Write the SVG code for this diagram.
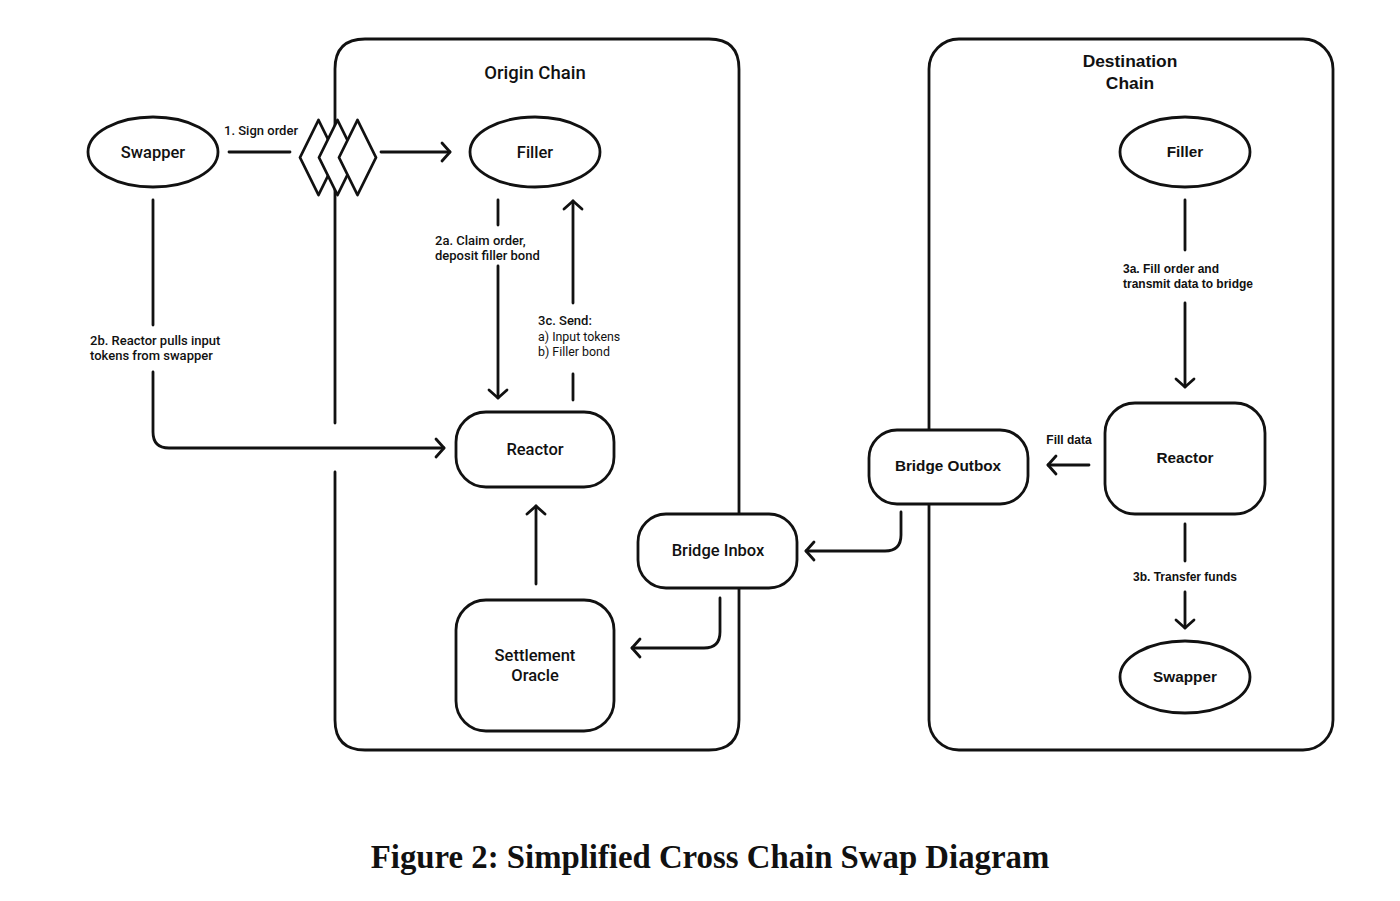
<svg xmlns="http://www.w3.org/2000/svg" width="1400" height="901" viewBox="0 0 1400 901">
<style>
.s{fill:none;stroke:#111;stroke-width:2.8;stroke-linecap:round;stroke-linejoin:round}
.n{fill:#fff;stroke:#111;stroke-width:2.8}
.dm{fill:#fff;stroke:#111;stroke-width:2.8;stroke-linejoin:round}
.t{font-family:Roboto,"Liberation Sans",sans-serif;font-weight:500;font-size:16.5px;fill:#111;text-anchor:middle}
.d{font-family:"Liberation Sans",Arial,sans-serif;font-weight:700;font-size:15.3px;fill:#111;text-anchor:middle}
.l{font-family:Roboto,"Liberation Sans",sans-serif;font-weight:500;font-size:13px;fill:#111}
.lr{font-family:Roboto,"Liberation Sans",sans-serif;font-weight:400;font-size:12.4px;fill:#111}
.ld{font-family:"Liberation Sans",Arial,sans-serif;font-weight:700;font-size:12px;fill:#111}
.h{font-family:Roboto,"Liberation Sans",sans-serif;font-weight:500;font-size:18.5px;fill:#111;text-anchor:middle}
.hd{font-family:"Liberation Sans",Arial,sans-serif;font-weight:700;font-size:17.4px;fill:#111;text-anchor:middle}
.c{font-family:"Liberation Serif","Times New Roman",serif;font-weight:700;font-size:32.8px;fill:#111;text-anchor:middle}
</style>
<defs>
<marker id="a" markerUnits="userSpaceOnUse" markerWidth="24" markerHeight="24" viewBox="-12 -12 24 24" refX="0" refY="0" orient="auto" overflow="visible">
<path d="M-8,-9 L0,0 L-8,9" fill="none" stroke="#111" stroke-width="2.8" stroke-linecap="round" stroke-linejoin="round"/>
</marker>
</defs>
<rect width="1400" height="901" fill="#fff"/>
<g id="origin-chain">
<path class="s" d="M335,423 L335,69 Q335,39 365,39 L709,39 Q739,39 739,69 L739,720 Q739,750 709,750 L365,750 Q335,750 335,720 L335,472"/>
<text class="h" x="535" y="79">Origin Chain</text>
</g>
<g id="destination-chain">
<rect class="s" x="929" y="39" width="404" height="711" rx="30"/>
<text class="hd" x="1130" y="67">Destination</text>
<text class="hd" x="1130" y="89">Chain</text>
</g>
<g id="connectors">
<line class="s" x1="229" y1="152" x2="290" y2="152"/>
<path class="dm" d="M318.5,120 L337,157.5 L318.5,195 L300,157.5 Z"/>
<path class="dm" d="M337.5,120 L356,157.5 L337.5,195 L319,157.5 Z"/>
<path class="dm" d="M357.5,120 L376,157.5 L357.5,195 L339,157.5 Z"/>
<line class="s" x1="381" y1="152" x2="450" y2="152" marker-end="url(#a)"/>
<line class="s" x1="498" y1="200" x2="498" y2="225"/>
<line class="s" x1="498" y1="266" x2="498" y2="398" marker-end="url(#a)"/>
<line class="s" x1="573" y1="400" x2="573" y2="374"/>
<line class="s" x1="573" y1="303" x2="573" y2="201" marker-end="url(#a)"/>
<line class="s" x1="153" y1="200" x2="153" y2="325"/>
<path class="s" d="M153,372 L153,432 Q153,448 169,448 L444,448" marker-end="url(#a)"/>
<line class="s" x1="536" y1="584" x2="536" y2="506" marker-end="url(#a)"/>
<path class="s" d="M720,598 L720,632 Q720,648 704,648 L632,648" marker-end="url(#a)"/>
<path class="s" d="M901,512 L901,535 Q901,551 885,551 L806,551" marker-end="url(#a)"/>
<line class="s" x1="1089" y1="465" x2="1048" y2="465" marker-end="url(#a)"/>
<line class="s" x1="1185" y1="200" x2="1185" y2="250"/>
<line class="s" x1="1185" y1="303" x2="1185" y2="387" marker-end="url(#a)"/>
<line class="s" x1="1185" y1="524" x2="1185" y2="561"/>
<line class="s" x1="1185" y1="592" x2="1185" y2="628" marker-end="url(#a)"/>
<text class="l" x="224" y="135">1. Sign order</text>
<text class="l" x="435" y="245">2a. Claim order,</text>
<text class="l" x="435" y="260">deposit filler bond</text>
<text class="l" x="538" y="325">3c. Send:</text>
<text class="lr" x="538" y="341">a) Input tokens</text>
<text class="lr" x="538" y="356">b) Filler bond</text>
<text class="l" x="90" y="345">2b. Reactor pulls input</text>
<text class="l" x="90" y="360">tokens from swapper</text>
<text class="ld" x="1123" y="273">3a. Fill order and</text>
<text class="ld" x="1123" y="288">transmit data to bridge</text>
<text class="ld" x="1069" y="444" text-anchor="middle">Fill data</text>
<text class="ld" x="1185" y="581" text-anchor="middle">3b. Transfer funds</text>
</g>
<g id="swapper-origin">
<ellipse class="n" cx="153" cy="152" rx="65" ry="35"/>
<text class="t" x="153" y="158">Swapper</text>
</g>
<g id="filler-origin">
<ellipse class="n" cx="535" cy="152" rx="65" ry="35"/>
<text class="t" x="535" y="158">Filler</text>
</g>
<g id="reactor-origin">
<rect class="n" x="456" y="412" width="158" height="75" rx="30"/>
<text class="t" x="535" y="455">Reactor</text>
</g>
<g id="settlement-oracle">
<rect class="n" x="456" y="600" width="158" height="131" rx="30"/>
<text class="t" x="535" y="661">Settlement</text>
<text class="t" x="535" y="681">Oracle</text>
</g>
<g id="bridge-inbox">
<rect class="n" x="638" y="514" width="159" height="74" rx="28"/>
<text class="t" x="718" y="556">Bridge Inbox</text>
</g>
<g id="bridge-outbox">
<rect class="n" x="869" y="430" width="159" height="74" rx="28"/>
<text class="d" x="948" y="471">Bridge Outbox</text>
</g>
<g id="filler-destination">
<ellipse class="n" cx="1185" cy="152" rx="65" ry="35"/>
<text class="d" x="1185" y="157">Filler</text>
</g>
<g id="reactor-destination">
<rect class="n" x="1105" y="403" width="160" height="111" rx="30"/>
<text class="d" x="1185" y="463">Reactor</text>
</g>
<g id="swapper-destination">
<ellipse class="n" cx="1185" cy="677" rx="65" ry="36"/>
<text class="d" x="1185" y="682">Swapper</text>
</g>
<text class="c" x="710" y="868">Figure 2: Simplified Cross Chain Swap Diagram</text>
</svg>
